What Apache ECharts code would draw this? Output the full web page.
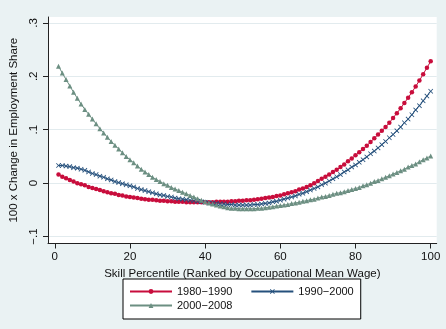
<!DOCTYPE html>
<html>
<head>
<meta charset="utf-8">
<script src="https://cdn.jsdelivr.net/npm/echarts@6/dist/echarts.min.js"></script>
<style>
  html, body { margin: 0; padding: 0; background: #eaf2f3; }
  #chart { width: 446px; height: 329px; }
</style>
</head>
<body>
<div id="chart"></div>
<script>
// Skill percentile (occupations ranked by mean wage), 1..100
const percentiles = Array.from({ length: 100 }, (_, i) => i + 1);

const seriesNames = ['1980\u22121990', '1990\u22122000', '2000\u22122008'];

// 100 x change in employment share, smoothed, by skill percentile
const share1980 = [
  0.016, 0.012, 0.009, 0.006, 0.003, 0.000, -0.002, -0.004, -0.007, -0.009,
  -0.011, -0.013, -0.015, -0.017, -0.019, -0.020, -0.022, -0.023, -0.025, -0.026,
  -0.027, -0.028, -0.029, -0.030, -0.031, -0.031, -0.032, -0.033, -0.033, -0.034,
  -0.034, -0.035, -0.035, -0.035, -0.036, -0.036, -0.036, -0.036, -0.036, -0.036,
  -0.036, -0.036, -0.035, -0.035, -0.035, -0.035, -0.034, -0.034, -0.033, -0.033,
  -0.032, -0.032, -0.031, -0.030, -0.029, -0.028, -0.027, -0.026, -0.024, -0.023,
  -0.021, -0.019, -0.017, -0.015, -0.012, -0.010, -0.007, -0.004, 0.000, 0.004,
  0.008, 0.012, 0.016, 0.021, 0.025, 0.030, 0.035, 0.041, 0.046, 0.052,
  0.058, 0.064, 0.070, 0.077, 0.084, 0.091, 0.098, 0.105, 0.113, 0.122,
  0.131, 0.140, 0.150, 0.160, 0.170, 0.181, 0.192, 0.204, 0.216, 0.228
];
const share1990 = [
  0.033, 0.033, 0.032, 0.031, 0.029, 0.028, 0.026, 0.024, 0.021, 0.018,
  0.016, 0.013, 0.011, 0.008, 0.006, 0.003, 0.001, -0.001, -0.003, -0.005,
  -0.007, -0.010, -0.012, -0.014, -0.016, -0.018, -0.020, -0.022, -0.023, -0.025,
  -0.026, -0.028, -0.029, -0.030, -0.031, -0.032, -0.033, -0.034, -0.035, -0.036,
  -0.037, -0.037, -0.038, -0.039, -0.039, -0.040, -0.040, -0.041, -0.041, -0.041,
  -0.041, -0.041, -0.040, -0.040, -0.039, -0.038, -0.037, -0.035, -0.034, -0.032,
  -0.030, -0.028, -0.026, -0.024, -0.021, -0.019, -0.016, -0.013, -0.010, -0.007,
  -0.003, 0.000, 0.004, 0.008, 0.012, 0.016, 0.021, 0.025, 0.030, 0.034,
  0.039, 0.044, 0.049, 0.055, 0.060, 0.066, 0.072, 0.078, 0.085, 0.091,
  0.098, 0.105, 0.113, 0.120, 0.128, 0.137, 0.145, 0.154, 0.163, 0.172
];
const share2000 = [
  0.219, 0.206, 0.194, 0.182, 0.170, 0.159, 0.148, 0.138, 0.129, 0.120,
  0.111, 0.102, 0.094, 0.086, 0.078, 0.071, 0.064, 0.057, 0.050, 0.044,
  0.038, 0.032, 0.026, 0.021, 0.016, 0.011, 0.007, 0.003, -0.001, -0.004,
  -0.008, -0.011, -0.014, -0.017, -0.020, -0.023, -0.026, -0.029, -0.032, -0.035,
  -0.037, -0.039, -0.041, -0.043, -0.044, -0.046, -0.047, -0.047, -0.048, -0.048,
  -0.048, -0.048, -0.048, -0.047, -0.047, -0.046, -0.045, -0.044, -0.043, -0.042,
  -0.041, -0.040, -0.038, -0.037, -0.036, -0.034, -0.033, -0.031, -0.030, -0.028,
  -0.026, -0.025, -0.023, -0.021, -0.019, -0.018, -0.016, -0.014, -0.012, -0.010,
  -0.008, -0.005, -0.003, 0.000, 0.003, 0.005, 0.008, 0.011, 0.014, 0.017,
  0.020, 0.023, 0.026, 0.030, 0.033, 0.036, 0.040, 0.044, 0.047, 0.051
];

// Axis ticks and their printed labels
const xTickValues = [0, 20, 40, 60, 80, 100];
const yTickValues = [-0.1, 0, 0.1, 0.2, 0.3];
const yTickLabels = ['\u2212.1', '0', '.1', '.2', '.3'];

const FONT = '"Liberation Sans", Arial, Helvetica, sans-serif';
const colors = ['#c80d3c', '#25507c', '#6c8f82'];
const xMarker = 'path://M0,1.2L1.2,0L5,3.8L8.8,0L10,1.2L6.2,5L10,8.8L8.8,10L5,6.2L1.2,10L0,8.8L3.8,5Z';
const symbols = ['circle', xMarker, 'triangle'];
const symbolSizes = [4.5, 5, 5];
const seriesData = [share1980, share1990, share2000];

const chart = echarts.init(document.getElementById('chart'), null, { renderer: 'canvas' });

const axisLineStyle = { color: '#222', width: 1 };

chart.setOption({
  backgroundColor: '#eaf2f3',
  animation: false,
  color: colors,
  textStyle: { fontFamily: FONT },
  grid: {
    left: 47.5, right: 9.3, top: 17, bottom: 85.5,
    show: true, backgroundColor: '#ffffff', borderWidth: 0
  },
  xAxis: {
    type: 'value',
    min: -1.8, max: 101.6,
    name: 'Skill Percentile (Ranked by Occupational Mean Wage)',
    nameLocation: 'middle',
    nameGap: 18,
    nameTextStyle: { fontSize: 11.5, color: '#111', fontFamily: FONT },
    axisLine: { show: true, onZero: false, lineStyle: axisLineStyle },
    axisTick: { show: true, length: 5, lineStyle: axisLineStyle, customValues: xTickValues },
    axisLabel: { fontSize: 11.5, color: '#111', margin: 7, fontFamily: FONT, customValues: xTickValues },
    splitLine: { show: false }
  },
  yAxis: {
    type: 'value',
    min: -0.113, max: 0.311,
    name: '100 x Change in Employment Share',
    nameLocation: 'middle',
    nameGap: 28,
    nameRotate: 90,
    nameTextStyle: { fontSize: 11.5, color: '#111', fontFamily: FONT },
    axisLine: { show: true, onZero: false, lineStyle: axisLineStyle },
    axisTick: { show: true, length: 5, lineStyle: axisLineStyle, customValues: yTickValues },
    axisLabel: {
      fontSize: 11.5, color: '#111', margin: 8, rotate: 90, fontFamily: FONT,
      customValues: yTickValues,
      formatter: (v) => {
        const i = yTickValues.findIndex((t) => Math.abs(t - v) < 1e-9);
        return i >= 0 ? yTickLabels[i] : '';
      }
    },
    splitLine: { show: true, lineStyle: { color: '#e2ebee', width: 1 } }
  },
  legend: [
    {
      data: seriesNames.slice(0, 2),
      left: 123, top: 279,
      orient: 'horizontal',
      itemWidth: 42, itemHeight: 6, itemGap: 18,
      padding: [7, 7, 22, 6],
      backgroundColor: '#ffffff',
      borderColor: '#000', borderWidth: 1, borderRadius: 0,
      textStyle: { fontSize: 11, color: '#111', fontFamily: FONT, lineHeight: 11 },
      z: 4
    },
    {
      data: seriesNames.slice(2),
      left: 129, top: 300,
      orient: 'horizontal',
      itemWidth: 42, itemHeight: 6,
      padding: 0,
      textStyle: { fontSize: 11, color: '#111', fontFamily: FONT, lineHeight: 11 },
      z: 5
    }
  ],
  series: seriesNames.map((name, k) => ({
    name,
    type: 'line',
    data: percentiles.map((p, i) => [p, seriesData[k][i]]),
    symbol: symbols[k],
    symbolSize: symbolSizes[k],
    showSymbol: true,
    showAllSymbol: true,
    lineStyle: { width: 1, color: colors[k] },
    itemStyle: { color: colors[k] },
    emphasis: { disabled: true }
  }))
});
</script>
</body>
</html>
